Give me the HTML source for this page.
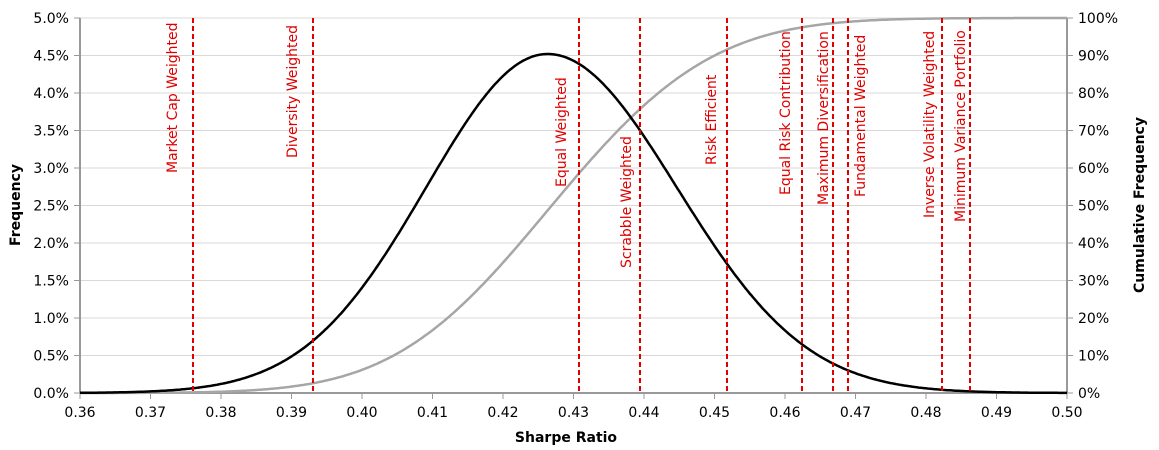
<!DOCTYPE html>
<html><head><meta charset="utf-8"><style>
html,body{margin:0;padding:0;background:#fff;}
svg{display:block;font-family:"DejaVu Sans","Liberation Sans",sans-serif;}
</style></head><body>
<svg id="c" width="1159" height="450" viewBox="0 0 1159 450" xmlns="http://www.w3.org/2000/svg">
<g id="grid" stroke="#d9d9d9" stroke-width="1"></g>
<g id="axes"></g>
<path id="cum" fill="none" stroke="#a6a6a6" stroke-width="2.5"/>
<path id="den" fill="none" stroke="#000" stroke-width="2.5"/>
<g id="vl" stroke="#e00000" stroke-width="2" stroke-dasharray="5,3"></g>
<g id="lab" fill="#e00000" font-size="14"></g>
<text x="566" y="442" font-size="14" font-weight="bold" text-anchor="middle" fill="#000">Sharpe Ratio</text>
<text transform="translate(20,205) rotate(-90)" font-size="14" font-weight="bold" text-anchor="middle" fill="#000">Frequency</text>
<text transform="translate(1144,205) rotate(-90)" font-size="14" font-weight="bold" text-anchor="middle" fill="#000">Cumulative Frequency</text>
</svg>
<script>
var NS="http://www.w3.org/2000/svg";
function el(p,t,a,txt){var e=document.createElementNS(NS,t);for(var k in a)e.setAttribute(k,a[k]);if(txt)e.textContent=txt;document.getElementById(p).appendChild(e);return e;}
var X0=80,X1=1067,Y0=393,Y1=18;
function X(v){return X0+(v-0.36)/0.14*(X1-X0);}
for(var i=0;i<=10;i++){var y=Y0-(Y0-Y1)*i/10;
 if(i>0)el("grid","line",{x1:X0,x2:X1,y1:y,y2:y});
 el("axes","line",{x1:X0-6,x2:X0,y1:y,y2:y,stroke:"#999"});
 el("axes","line",{x1:X1,x2:X1+6,y1:y,y2:y,stroke:"#999"});
 el("axes","text",{x:X0-11,y:y+5,"text-anchor":"end","font-size":"14",fill:"#000"},(i*0.5).toFixed(1)+"%");
 el("axes","text",{x:X1+11,y:y+5,"font-size":"14",fill:"#000"},(i*10)+"%");}
el("axes","line",{x1:X0,x2:X0,y1:Y1,y2:Y0,stroke:"#999","stroke-width":2});
el("axes","line",{x1:X1,x2:X1,y1:Y1,y2:Y0,stroke:"#999","stroke-width":2});
el("axes","line",{x1:X0,x2:X1,y1:Y0,y2:Y0,stroke:"#999","stroke-width":2});
for(var i=0;i<=14;i++){var v=0.36+i*0.01,x=X(v);
 el("axes","line",{x1:x,x2:x,y1:Y0,y2:Y0+6,stroke:"#999"});
 el("axes","text",{x:x,y:Y0+24,"text-anchor":"middle","font-size":"14",fill:"#000"},v.toFixed(2));}
var mu=0.4263,pk=4.52;
function f(v){var d=v-mu;var z=d/(d<0?0.0172:0.0183);var g=Math.exp(-z*z/2);if(d>0)g+=0.02*Math.exp(-d/0.012)*(1-Math.exp(-z*z/2));return pk*g;}
var N=700,dv=0.14/N,s=0,vals=[];
for(var i=0;i<=N;i++){vals.push(f(0.36+i*dv));}
var tot=0;for(var i=0;i<=N;i++)tot+=vals[i];
var d1="",d2="";
for(var i=0;i<=N;i++){var v=0.36+i*dv;s+=vals[i];var x=X(v).toFixed(1);
 d1+=(i?"L":"M")+x+","+(Y0-vals[i]/5*(Y0-Y1)).toFixed(1);
 d2+=(i?"L":"M")+x+","+(Y0-s/tot*(Y0-Y1)).toFixed(1);}
document.getElementById("den").setAttribute("d",d1);
document.getElementById("cum").setAttribute("d",d2);
var L=[[193,172,173,"Market Cap Weighted"],[313,292,158,"Diversity Weighted"],[579,561,187,"Equal Weighted"],[640,626,268,"Scrabble Weighted"],[727,711,165,"Risk Efficient"],[802,785,195,"Equal Risk Contribution"],[833,823,205,"Maximum Diversification"],[848,860,197,"Fundamental Weighted"],[942,929,218,"Inverse Volatility Weighted"],[970,960,222,"Minimum Variance Portfolio"]];
L.forEach(function(l){el("vl","line",{x1:l[0],x2:l[0],y1:Y1,y2:Y0});
 el("lab","text",{transform:"translate("+(l[1]+5)+","+l[2]+") rotate(-90)"},l[3]);});
</script>
</body></html>
